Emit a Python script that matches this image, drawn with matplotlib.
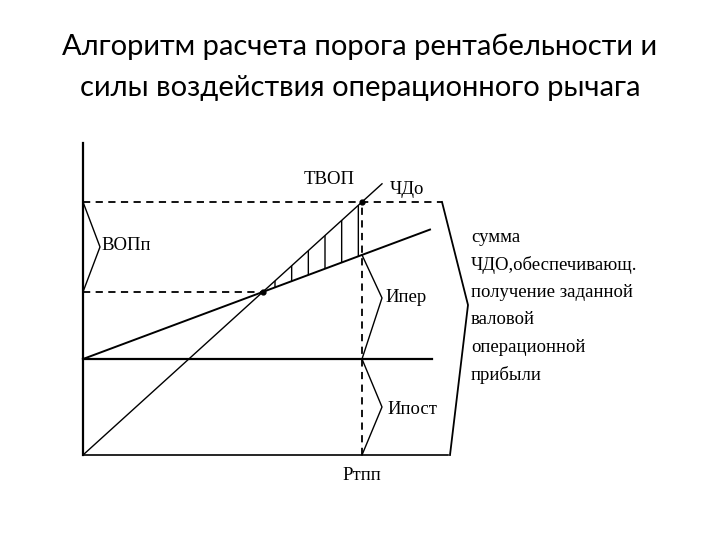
import numpy as np
import matplotlib
matplotlib.use('Agg')
import matplotlib.pyplot as plt

# Diagram values (arbitrary units, origin = lower left corner of axes)
fixed_costs = 96          # Ипост level
var_cost_rate = 0.373     # slope of total cost line
revenue_rate = 0.907      # slope of revenue line (ЧДо)
x_target = 279            # Ртпп volume
x_rev_end = 299
x_cost_end = 347
x_fixed_end = 349
x_base_end = 365
y_axis_top = 312

x_be = fixed_costs / (revenue_rate - var_cost_rate)   # break-even volume
y_be = revenue_rate * x_be
y_target = revenue_rate * x_target                      # ТВОП level
y_cost_target = fixed_costs + var_cost_rate * x_target

right_text = ['сумма', 'ЧДО,обеспечивающ.', 'получение заданной',
              'валовой', 'операционной', 'прибыли']

fig = plt.figure(figsize=(7.2, 5.4), dpi=100)
fig.text(0.5, 1 - 47 / 540, 'Алгоритм расчета порога рентабельности и',
         ha='center', va='center', fontsize=21, family='Lato')
fig.text(0.5, 1 - 88 / 540, 'силы воздействия операционного рычага',
         ha='center', va='center', fontsize=21, family='Lato')

ax = fig.add_axes([83 / 720, 85 / 540, 600 / 720, 312 / 540])
ax.set_xlim(0, 600)
ax.set_ylim(0, 312)
ax.axis('off')

k = dict(color='black', clip_on=False)
serif = dict(family='Liberation Serif', fontsize=13.5, color='black')

# axes
ax.plot([0, 0], [0, y_axis_top], lw=1.6, **k)
ax.plot([0, x_base_end], [0, 0], lw=1.2, **k)

# fixed costs, total cost, revenue
ax.plot([0, x_fixed_end], [fixed_costs, fixed_costs], lw=1.6, **k)
xc = np.array([0, x_cost_end])
ax.plot(xc, fixed_costs + var_cost_rate * xc, lw=1.4, **k)
xr = np.array([0, x_rev_end])
ax.plot(xr, revenue_rate * xr, lw=1.0, **k)

# hatched zone between revenue and cost lines
xh = np.linspace(x_be, x_target, 50)
ax.fill_between(xh, fixed_costs + var_cost_rate * xh, revenue_rate * xh,
                facecolor='none', edgecolor='black', hatch='|', lw=0)

# dashed guides
ax.plot([0, 359], [y_target, y_target], ls=(0, (4, 3)), lw=1.3, **k)
ax.plot([0, x_be], [y_be, y_be], ls=(0, (4, 3)), lw=1.3, **k)
ax.plot([x_target, x_target], [0, y_target], ls=(0, (4, 3)), lw=1.3, **k)

# points
ax.plot([x_be, x_target], [y_be, y_target], 'o', ms=3.5, color='black', clip_on=False)

# brackets
ax.plot([0, 17, 0], [y_target, (y_target + y_be) / 2, y_be], lw=1.0, **k)
ax.plot([x_target, x_target + 20, x_target],
        [y_cost_target, (y_cost_target + fixed_costs) / 2 + 9, fixed_costs], lw=1.0, **k)
ax.plot([x_target, x_target + 20, x_target],
        [fixed_costs, fixed_costs / 2, 0], lw=1.0, **k)
ax.plot([359, 385, 367], [y_target, 150, 0], lw=1.3, **k)

# labels
ax.text(18, 210, 'ВОПп', ha='left', va='center', **serif)
ax.text(302, 158, 'Ипер', ha='left', va='center', **serif)
ax.text(304, 45, 'Ипост', ha='left', va='center', **serif)
ax.text(x_target - 7, 275, 'ТВОП', ha='right', va='center', **serif)
ax.text(307, 266, 'ЧДо', ha='left', va='center', **serif)
ax.text(x_target, -20, 'Ртпп', ha='center', va='center', **serif)
for i, line in enumerate(right_text):
    ax.text(388, 218 - i * 27.6, line, ha='left', va='center', **serif)

fig.savefig('out.png', dpi=100, facecolor='white')
